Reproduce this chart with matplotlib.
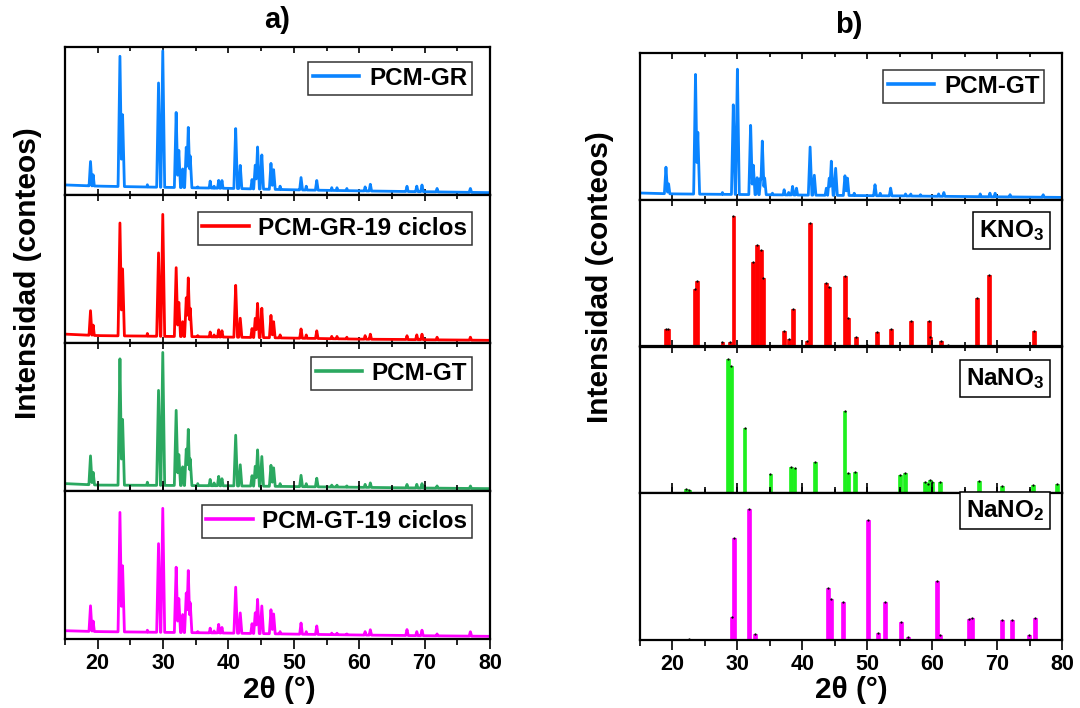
import numpy as np
import matplotlib
matplotlib.use('Agg')
import matplotlib.pyplot as plt

plt.rcParams['font.family'] = ['Liberation Sans', 'DejaVu Sans']
plt.rcParams['font.weight'] = 'bold'
plt.rcParams['mathtext.fontset'] = 'custom'
plt.rcParams['mathtext.rm'] = 'Liberation Sans:bold'
plt.rcParams['mathtext.it'] = 'Liberation Sans:bold'
plt.rcParams['mathtext.bf'] = 'Liberation Sans:bold'

# --- panel a) diffractograms: peak positions (2theta) and relative heights ---
peak_pos = [18.9, 19.3, 23.4, 23.8, 27.6, 29.3, 29.95, 32.0, 32.4, 33.0, 33.55, 33.85,
            34.15, 35.3, 37.2, 37.8, 38.5, 39.0, 41.1, 41.8, 43.6, 44.1, 44.45, 45.1,
            46.5, 46.9, 47.9, 51.1, 51.9, 53.5, 55.8, 56.6, 58.1, 60.9, 61.7, 67.3,
            68.8, 69.6, 71.9, 77.0]

gr = [0.227, 0.14, 0.948, 0.555, 0.07, 0.766, 0.986, 0.561, 0.31, 0.18, 0.327, 0.464,
      0.266, 0.055, 0.095, 0.06, 0.10, 0.10, 0.455, 0.202, 0.107, 0.205, 0.327, 0.273,
      0.214, 0.175, 0.06, 0.118, 0.06, 0.10, 0.05, 0.05, 0.045, 0.055, 0.073, 0.06,
      0.06, 0.068, 0.045, 0.045]
gr19 = [0.219, 0.124, 0.82, 0.512, 0.065, 0.616, 0.88, 0.512, 0.282, 0.147, 0.31, 0.447,
        0.237, 0.05, 0.075, 0.055, 0.09, 0.085, 0.395, 0.169, 0.10, 0.17, 0.27, 0.237,
        0.187, 0.147, 0.055, 0.095, 0.055, 0.084, 0.045, 0.045, 0.04, 0.05, 0.06, 0.05,
        0.055, 0.06, 0.04, 0.04]
gt = [0.238, 0.129, 0.903, 0.495, 0.06, 0.688, 0.948, 0.548, 0.253, 0.167, 0.287, 0.423,
      0.219, 0.05, 0.079, 0.055, 0.10, 0.085, 0.382, 0.179, 0.106, 0.17, 0.28, 0.235,
      0.174, 0.16, 0.05, 0.106, 0.05, 0.088, 0.04, 0.04, 0.035, 0.045, 0.055, 0.045,
      0.045, 0.05, 0.035, 0.035]
gt19 = [0.225, 0.124, 0.865, 0.506, 0.06, 0.652, 0.894, 0.488, 0.281, 0.169, 0.315, 0.47,
        0.247, 0.05, 0.074, 0.055, 0.10, 0.08, 0.355, 0.178, 0.106, 0.18, 0.27, 0.225,
        0.198, 0.173, 0.05, 0.108, 0.05, 0.09, 0.04, 0.04, 0.035, 0.05, 0.063, 0.065,
        0.05, 0.06, 0.035, 0.05]

# background level under each pattern
base_x = [15, 20, 30, 40, 50, 60, 70, 80]
gr_base = [0.068, 0.06, 0.052, 0.045, 0.035, 0.028, 0.022, 0.016]
gr19_base = [0.06, 0.05, 0.045, 0.04, 0.033, 0.026, 0.022, 0.018]
gt_base = [0.05, 0.04, 0.038, 0.035, 0.03, 0.025, 0.02, 0.016]
gt19_base = [0.056, 0.05, 0.045, 0.04, 0.033, 0.027, 0.022, 0.018]

# --- panel b) PCM-GT pattern and reference cards ---
peak_pos_b = [19.0, 19.4, 23.55, 23.9, 27.7, 29.37, 30.0, 32.04, 32.45, 33.05, 33.6, 33.84,
              34.2, 35.4, 37.2, 37.9, 38.5, 39.1, 41.2, 41.85, 43.7, 44.15, 44.47, 45.13,
              46.57, 46.95, 48.0, 51.2, 52.0, 53.6, 55.9, 56.7, 58.2, 61.0, 61.8, 67.4,
              68.9, 69.7, 72.0, 77.1]
gt_b = [0.223, 0.11, 0.855, 0.471, 0.05, 0.65, 0.897, 0.517, 0.241, 0.154, 0.15, 0.402,
        0.15, 0.045, 0.069, 0.05, 0.092, 0.08, 0.361, 0.168, 0.08, 0.15, 0.264, 0.218,
        0.166, 0.15, 0.045, 0.103, 0.045, 0.08, 0.04, 0.04, 0.035, 0.04, 0.05, 0.04,
        0.045, 0.045, 0.035, 0.035]
gt_b_base = [0.046, 0.04, 0.036, 0.032, 0.028, 0.024, 0.02, 0.016]

kno3_pos = [18.95, 19.25, 23.5, 23.8, 27.7, 28.9, 29.4, 32.35, 33.07, 33.6, 34.0, 37.2,
            37.95, 38.5, 40.67, 41.2, 43.6, 44.1, 46.6, 47.0, 48.3, 49.9, 51.55, 53.65,
            56.7, 59.5, 59.7, 61.3, 62.5, 66.85, 68.75, 71.4, 75.7]
kno3_int = [0.12, 0.12, 0.39, 0.448, 0.028, 0.03, 0.89, 0.579, 0.694, 0.66, 0.467, 0.103,
            0.053, 0.253, 0.039, 0.839, 0.432, 0.407, 0.483, 0.195, 0.062, 0.007, 0.099, 0.12,
            0.177, 0.172, 0.064, 0.039, 0.011, 0.333, 0.487, 0.005, 0.108]

nano3_pos = [22.1, 22.6, 28.55, 29.0, 31.1, 35.1, 38.3, 38.8, 41.95, 46.5, 47.1, 48.1,
             55.1, 55.75, 58.9, 59.3, 59.7, 60.0, 61.2, 67.15, 70.8, 75.5, 79.2]
nano3_int = [0.03, 0.023, 0.915, 0.867, 0.448, 0.131, 0.177, 0.172, 0.211, 0.559, 0.138, 0.143,
             0.126, 0.138, 0.08, 0.064, 0.092, 0.08, 0.074, 0.085, 0.05, 0.057, 0.062]

nano2_pos = [22.6, 29.1, 29.5, 31.85, 32.65, 43.9, 44.4, 46.26, 50.16, 51.6, 52.7, 55.2,
             56.3, 60.75, 61.25, 65.6, 66.2, 70.7, 72.3, 74.85, 75.8]
nano2_int = [0.005, 0.158, 0.698, 0.892, 0.039, 0.352, 0.279, 0.256, 0.815, 0.046, 0.261, 0.126,
             0.021, 0.4, 0.032, 0.142, 0.153, 0.135, 0.135, 0.032, 0.149]

blue = '#0A84FF'
red = '#FF0000'
green = '#2BA860'
magenta = '#FF00FF'
lime = '#1EF01E'

tt = np.linspace(15, 80, 4000)


def pattern(pos, heights, bx, by, hw=0.3):
    """Diffractogram drawn as narrow peaks standing on the background."""
    y = np.interp(tt, bx, by)
    for p, h in zip(pos, heights):
        y = np.maximum(y, h * np.clip(1 - np.abs(tt - p) / hw, 0, None))
    return y


def style_axis(ax, bottom):
    ax.set_xlim(15, 80)
    ax.set_ylim(0, 1)
    ax.set_yticks([])
    ax.set_xticks(np.arange(20, 81, 10))
    ax.set_xticks(np.arange(15, 81, 5), minor=True)
    for s in ax.spines.values():
        s.set_linewidth(1.6)
    ax.tick_params(axis='x', which='both', top=True, direction='in', width=1.2)
    ax.tick_params(axis='x', which='major', length=4)
    ax.tick_params(axis='x', which='minor', length=3)
    if bottom:
        ax.tick_params(axis='x', which='both', bottom=True, direction='out',
                       labelsize=15.5, pad=3)
        ax.tick_params(axis='x', which='major', length=7)
        ax.tick_params(axis='x', which='minor', length=4)
        ax.tick_params(axis='x', which='both', top=True)
        for lab in ax.get_xticklabels():
            lab.set_fontweight('bold')
    else:
        ax.tick_params(axis='x', labelbottom=False)


def add_legend(ax, label, top):
    leg = ax.legend([label], loc='upper right', bbox_to_anchor=(0.958, top),
                    fontsize=17.5, frameon=True, fancybox=False, borderpad=0.2,
                    handlelength=1.9, handletextpad=0.4, borderaxespad=0)
    leg.get_frame().set_edgecolor('black')
    leg.get_frame().set_linewidth(1.1)
    for line in leg.get_lines():
        line.set_linewidth(2.6)
    for t in leg.get_texts():
        t.set_fontweight('bold')


W, H = 1080, 708
fig = plt.figure(figsize=(10.8, 7.08), dpi=100)


def make_stack(x0, x1, y0, y1):
    step = (y1 - y0) / 4
    axes = []
    for i in range(4):
        top = y0 + i * step
        axes.append(fig.add_axes([x0 / W, 1 - (top + step) / H, (x1 - x0) / W, step / H]))
    return axes


# panel a)
axes_a = make_stack(65, 490, 47, 639)
series_a = [(gr, gr_base, blue, 'PCM-GR'),
            (gr19, gr19_base, red, 'PCM-GR-19 ciclos'),
            (gt, gt_base, green, 'PCM-GT'),
            (gt19, gt19_base, magenta, 'PCM-GT-19 ciclos')]
legend_tops = [0.9, 0.885, 0.905, 0.905]
for i, (ax, (h, b, c, lab)) in enumerate(zip(axes_a, series_a)):
    ax.plot(tt, pattern(peak_pos, h, base_x, b), color=c, lw=2.0)
    style_axis(ax, i == 3)
    add_legend(ax, lab, legend_tops[i])

# panel b)
axes_b = make_stack(640, 1062, 53, 640)
ax = axes_b[0]
ax.plot(tt, pattern(peak_pos_b, gt_b, base_x, gt_b_base), color=blue, lw=2.0)
style_axis(ax, False)
add_legend(ax, 'PCM-GT', 0.885)

cards = [(kno3_pos, kno3_int, red, 'KNO$_3$', 0.875),
         (nano3_pos, nano3_int, lime, 'NaNO$_3$', 0.865),
         (nano2_pos, nano2_int, magenta, 'NaNO$_2$', 0.965)]
for ax, (p, h, c, lab, top) in zip(axes_b[1:], cards):
    ax.bar(p, h, width=0.6, color=c, edgecolor=c, linewidth=0.5)
    ax.plot(p, h, 'k.', ms=1.3)
    style_axis(ax, ax is axes_b[3])
    ax.text(0.958, top, lab, transform=ax.transAxes, ha='right', va='top',
            fontsize=17.5, fontweight='bold',
            bbox=dict(boxstyle='square,pad=0.25', fc='white', ec='black', lw=1.1))

# titles and axis labels
fig.text(277 / W, 1 - 20 / H, 'a)', ha='center', va='center', fontsize=21, fontweight='bold')
fig.text(849 / W, 1 - 25 / H, 'b)', ha='center', va='center', fontsize=21, fontweight='bold')
for x, y in [(28, 273), (600, 277)]:
    fig.text(x / W, 1 - y / H, 'Intensidad (conteos)', rotation=90, ha='center',
             va='center', fontsize=21.5, fontweight='bold')
for x in [279, 851]:
    fig.text(x / W, 1 - 690 / H, '2θ (°)', ha='center', va='center',
             fontsize=21.5, fontweight='bold')

fig.savefig('out.png', dpi=100)
